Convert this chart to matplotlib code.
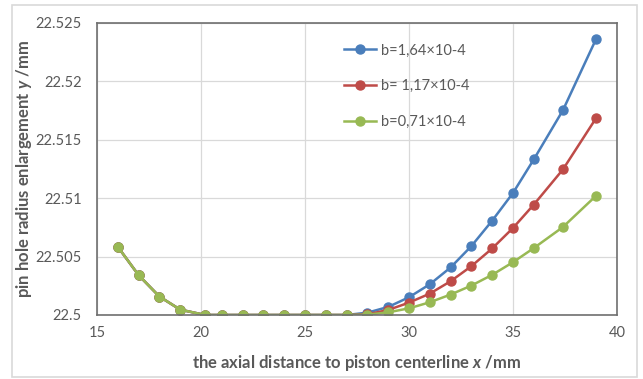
import matplotlib
matplotlib.use("Agg")
import matplotlib.pyplot as plt
from matplotlib.patches import Rectangle

x = [16, 17, 18, 19, 20.2, 21, 22, 23, 24, 25, 26, 27, 28, 29, 30, 31, 32, 33, 34, 35, 36, 37.4, 39]
base = [5.84, 3.41, 1.58, 0.46, 0, 0, 0, 0, 0, 0, 0, 0]
blue_tail = [0.20, 0.69, 1.52, 2.63, 4.07, 5.90, 8.08, 10.45, 13.32, 17.53, 23.65]
red_tail = [0.06, 0.43, 1.06, 1.83, 2.89, 4.18, 5.70, 7.45, 9.45, 12.46, 16.87]
green_tail = [0.03, 0.23, 0.57, 1.09, 1.75, 2.52, 3.44, 4.52, 5.73, 7.53, 10.22]
y_blue = [22.5 + v / 1000 for v in base + blue_tail]
y_red = [22.5 + v / 1000 for v in base + red_tail]
y_green = [22.5 + v / 1000 for v in base + green_tail]
labels = ["b=1,64\u00d710-4", "b= 1,17\u00d710-4", "b=0,71\u00d710-4"]
colors = ["#4a7ebb", "#be4b48", "#98b954"]

plt.rcParams['font.family'] = ['Lato', 'DejaVu Sans']
plt.rcParams['mathtext.fontset'] = 'custom'
plt.rcParams['mathtext.it'] = 'Lato:italic:bold'
plt.rcParams['mathtext.rm'] = 'Lato:bold'

fig = plt.figure(figsize=(6.43, 3.79), dpi=100)
ax = fig.add_axes([97/643, 1-315/379, (617-97)/643, (315-23)/379])

fig.patches.append(Rectangle((12/643, 1-377/379), (637-12)/643, (377-5)/379,
                             transform=fig.transFigure, fill=False,
                             edgecolor="#d9d9d9", linewidth=1.2))

for yy, c, lab in zip([y_blue, y_red, y_green], colors, labels):
    ax.plot(x, yy, color=c, linewidth=1.8, marker='o', markersize=6.5, label=lab)

ax.set_xlim(15, 40)
ax.set_ylim(22.5, 22.525)
ax.set_xticks([15, 20, 25, 30, 35, 40])
ax.set_yticks([22.5, 22.505, 22.51, 22.515, 22.52, 22.525])
ax.set_yticklabels(["22.5", "22.505", "22.51", "22.515", "22.52", "22.525"])
ax.grid(True, color="#d9d9d9", linewidth=0.9)
ax.set_axisbelow(True)
for s in ax.spines.values():
    s.set_color("#6f6f6f")
    s.set_linewidth(1.2)
ax.tick_params(axis='y', length=0, labelsize=10.5, colors="#595959", pad=11)
ax.tick_params(axis='x', length=0, labelsize=10.5, colors="#595959", pad=8)

ax.set_xlabel("the axial distance to piston centerline $x$ /mm", fontsize=12,
              fontweight='bold', color="#595959", labelpad=9)
ax.set_ylabel("pin hole radius enlargement $y$ /mm", fontsize=12,
              fontweight='bold', color="#595959", labelpad=1)

leg = ax.legend(loc='upper left', bbox_to_anchor=(0.45, 0.975), frameon=False,
                fontsize=10.5, labelcolor="#595959", labelspacing=1.5,
                handlelength=2.2, handletextpad=0.3)

fig.savefig("out.png", dpi=100)
